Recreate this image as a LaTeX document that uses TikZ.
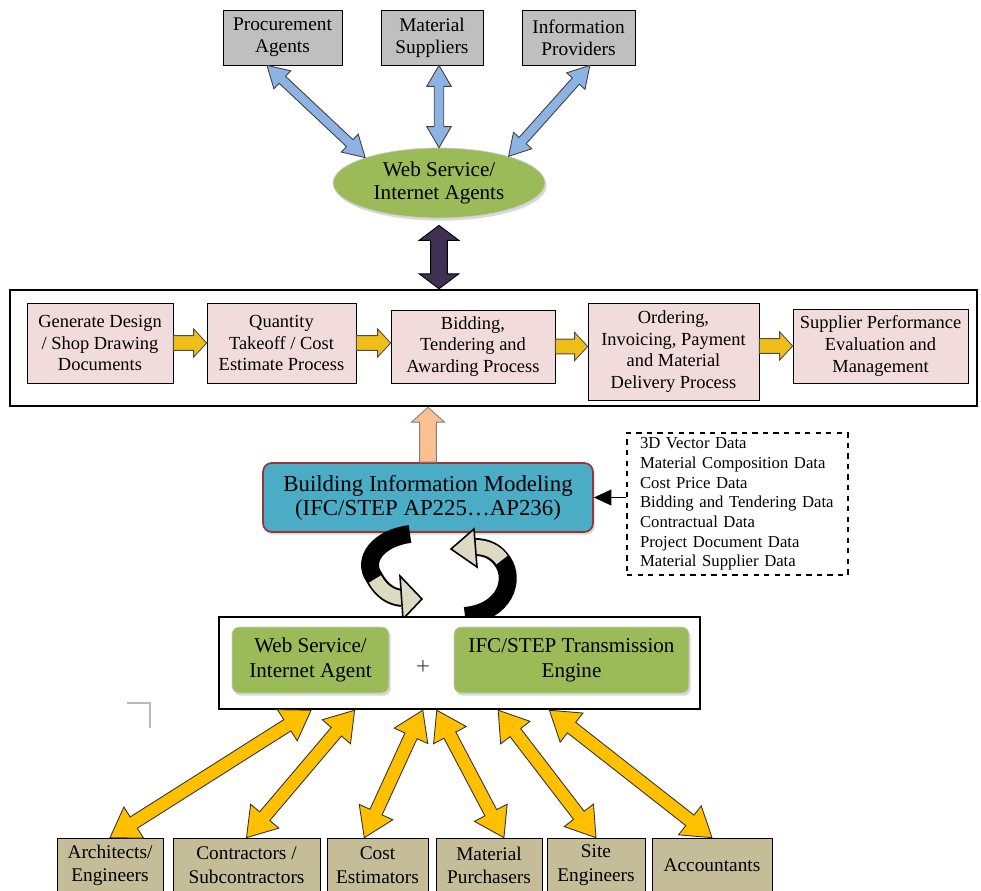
\documentclass[tikz,border=0pt]{standalone}
\usepackage{fontspec}
\setmainfont{Liberation Serif}
\usetikzlibrary{calc,shapes.geometric,arrows.meta,shadows}

\definecolor{partygray}{RGB}{191,191,191}
\definecolor{linkblue}{RGB}{141,179,226}
\definecolor{webgreen}{RGB}{155,187,89}
\definecolor{darkplum}{RGB}{64,49,82}
\definecolor{stagepink}{RGB}{242,220,219}
\definecolor{flowgold}{RGB}{240,190,25}
\definecolor{peach}{RGB}{250,192,144}
\definecolor{bimblue}{RGB}{75,172,198}
\definecolor{bimred}{RGB}{149,55,53}
\definecolor{usertan}{RGB}{196,189,151}
\definecolor{usergold}{RGB}{255,192,0}
\definecolor{cyclebeige}{RGB}{221,217,195}

% block arrows built along the line from start to target
\tikzset{
  aw shaft/.store in=\awshaft, aw head/.store in=\awhead, aw len/.store in=\awlen,
  aw shaft=3pt, aw head=7pt, aw len=8pt,
  twoway/.style={to path={
    let \p1=(\tikztostart), \p2=(\tikztotarget),
        \n1={veclen(\x2-\x1,\y2-\y1)}, \n2={(\x2-\x1)/\n1}, \n3={(\y2-\y1)/\n1}
    in (\p1)
    -- ({\x1+\awlen*\n2-\awhead*\n3},{\y1+\awlen*\n3+\awhead*\n2})
    -- ({\x1+\awlen*\n2-\awshaft*\n3},{\y1+\awlen*\n3+\awshaft*\n2})
    -- ({\x2-\awlen*\n2-\awshaft*\n3},{\y2-\awlen*\n3+\awshaft*\n2})
    -- ({\x2-\awlen*\n2-\awhead*\n3},{\y2-\awlen*\n3+\awhead*\n2})
    -- (\p2)
    -- ({\x2-\awlen*\n2+\awhead*\n3},{\y2-\awlen*\n3-\awhead*\n2})
    -- ({\x2-\awlen*\n2+\awshaft*\n3},{\y2-\awlen*\n3-\awshaft*\n2})
    -- ({\x1+\awlen*\n2+\awshaft*\n3},{\y1+\awlen*\n3-\awshaft*\n2})
    -- ({\x1+\awlen*\n2+\awhead*\n3},{\y1+\awlen*\n3-\awhead*\n2})
    -- cycle}},
  oneway/.style={to path={
    let \p1=(\tikztostart), \p2=(\tikztotarget),
        \n1={veclen(\x2-\x1,\y2-\y1)}, \n2={(\x2-\x1)/\n1}, \n3={(\y2-\y1)/\n1}
    in ({\x1-\awshaft*\n3},{\y1+\awshaft*\n2})
    -- ({\x2-\awlen*\n2-\awshaft*\n3},{\y2-\awlen*\n3+\awshaft*\n2})
    -- ({\x2-\awlen*\n2-\awhead*\n3},{\y2-\awlen*\n3+\awhead*\n2})
    -- (\p2)
    -- ({\x2-\awlen*\n2+\awhead*\n3},{\y2-\awlen*\n3-\awhead*\n2})
    -- ({\x2-\awlen*\n2+\awshaft*\n3},{\y2-\awlen*\n3-\awshaft*\n2})
    -- ({\x1+\awshaft*\n3},{\y1-\awshaft*\n2})
    -- cycle}}
}

\begin{document}
\begin{tikzpicture}[x=0.02cm, y=-0.02cm,
  every node/.style={align=center, inner sep=0pt},
  party/.style={draw, fill=partygray, minimum height=1.1cm,
                font=\fontsize{11}{12.5}\selectfont},
  stagebox/.style={draw, fill=stagepink, font=\fontsize{10.5}{12.3}\selectfont},
  userbox/.style={draw, fill=usertan, minimum height=1.1cm,
                  font=\fontsize{11}{13.5}\selectfont},
  greenbox/.style={draw=white!80!black, fill=webgreen, rounded corners=4pt,
                   minimum height=1.32cm, font=\fontsize{12}{14}\selectfont,
                   drop shadow={shadow xshift=1pt, shadow yshift=-1.5pt, opacity=.3}},
  holder/.style={draw, line width=1.4pt, fill=white},
  linkarr/.style={twoway, fill=linkblue, draw=black!75, line width=0.5pt,
                  aw shaft=2.7pt, aw head=7pt, aw len=12pt},
  flowarr/.style={oneway, fill=flowgold, draw=black!70, line width=0.5pt,
                  aw shaft=4.2pt, aw head=8pt, aw len=7.4pt},
  userarr/.style={twoway, fill=usergold, draw=black!80, line width=0.5pt,
                  aw shaft=3.8pt, aw head=10.5pt, aw len=16pt},
  cyclearr/.style={line width=10.2pt},
  cyclein/.style={line width=8pt, cyclebeige}
]
  \useasboundingbox (0,0) rectangle (981,890);

  % partners on the web
  \node[party, minimum width=2.38cm] (proc) at (282.5,37.5) {Procurement\\Agents};
  \node[party, minimum width=2.04cm] (supp) at (432,37.5) {Material\\Suppliers};
  \node[party, minimum width=2.26cm] (info) at (578.5,37.5) {Information\\Providers};

  \node[ellipse, draw=white!80!black, fill=webgreen, minimum width=4.24cm,
        minimum height=1.4cm, font=\fontsize{12}{13.5}\selectfont,
        drop shadow={shadow xshift=1pt, shadow yshift=-1.5pt, opacity=.3}]
        (ws) at (439,183) {Web Service/\\Internet Agents};

  \coordinate (p1) at ($(proc.south west)!0.37!(proc.south east)$);
  \coordinate (p2) at (ws.north |- supp.south);
  \coordinate (p3) at ($(info.south west)!0.6!(info.south east)$);
  \draw[linkarr] (p1) to (ws.161);
  \draw[linkarr] (p2) to (ws.north);
  \draw[linkarr] (p3) to (ws.21);

  % procurement process
  \node[holder, minimum width=19.34cm, minimum height=2.32cm] (flow) at (493.5,348) {};
  \node[stagebox, minimum width=2.92cm, minimum height=1.6cm] (b1) at (100,343)
       {Generate Design\\/ Shop Drawing\\Documents};
  \node[stagebox, minimum width=2.98cm, minimum height=1.6cm] (b2) at (281.5,343)
       {Quantity\\Takeoff / Cost\\Estimate Process};
  \node[stagebox, minimum width=3.28cm, minimum height=1.46cm] (b3) at (473,346.5)
       {Bidding,\\Tendering and\\Awarding Process};
  \node[stagebox, minimum width=3.42cm, minimum height=1.94cm] (b4) at (673.5,351.5)
       {Ordering,\\Invoicing, Payment\\and Material\\Delivery Process};
  \node[stagebox, minimum width=3.5cm, minimum height=1.48cm] (b5) at (880.5,346)
       {Supplier Performance\\Evaluation and\\Management};

  \coordinate (q2) at (b2.east -| b3.west);
  \coordinate (q3) at (b3.east -| b4.west);
  \coordinate (q4) at (b5.west -| b4.east);
  \draw[flowarr] (b1.east) to (b2.west);
  \draw[flowarr] (b2.east) to (q2);
  \draw[flowarr] (b3.east) to (q3);
  \draw[flowarr] (q4) to (b5.west);

  \coordinate (wsdown) at ([yshift=-4pt]ws.south);
  \coordinate (flowtop) at (ws.south |- flow.north);
  \draw[twoway, fill=darkplum, draw=black, line width=0.5pt,
        aw shaft=4.8pt, aw head=11.3pt, aw len=8.5pt] (wsdown) to (flowtop);

  % BIM and its data
  \node[draw=bimred, line width=1pt, fill=bimblue, rounded corners=5pt,
        minimum width=6.6cm, minimum height=1.38cm,
        font=\fontsize{13}{13.6}\selectfont,
        drop shadow={shadow xshift=1pt, shadow yshift=-1.5pt, opacity=.3}]
        (bim) at (428,497.5) {Building Information Modeling\\(IFC/STEP AP225…AP236)};

  \coordinate (flowbot) at (bim.north |- flow.south);
  \draw[oneway, fill=peach, draw=black!50, line width=0.5pt,
        aw shaft=4.8pt, aw head=9.4pt, aw len=8.5pt] (bim.north) to (flowbot);

  \node[draw, dashed, line width=0.8pt, align=left, inner xsep=7.4pt,
        text width=4.42cm-14.8pt, minimum height=2.84cm,
        font=\fontsize{9.5}{11.2}\selectfont] (data) at (737.5,504)
       {3D Vector Data\\Material Composition Data\\Cost Price Data\\
        Bidding and Tendering Data\\Contractual Data\\Project Document Data\\
        Material Supplier Data};
  \coordinate (dataleft) at (data.west |- bim.east);
  \draw[line width=0.9pt, -{Triangle[length=10pt,width=9pt]}] (dataleft) -- (bim.east);

  % exchange cycle
  \draw[cyclearr] (410,534) .. controls (378,538) and (362,560) .. (374,577)
        .. controls (382,592) and (392,597) .. (402,598);
  \draw[cyclein] (375,579) .. controls (382,592) and (392,597) .. (402,598);
  \filldraw[fill=cyclebeige, draw=black, line width=0.9pt]
        (400,576) -- (422,599) -- (403,619) -- cycle;
  \draw[cyclearr] (465,616) .. controls (505,612) and (515,580) .. (503,562)
        .. controls (496,551) and (486,547) .. (475,547);
  \draw[cyclein] (502,560) .. controls (496,551) and (486,547) .. (475,547);
  \filldraw[fill=cyclebeige, draw=black, line width=0.9pt]
        (474,529) -- (451,549) -- (477,567) -- cycle;

  % transmission
  \node[holder, minimum width=9.62cm, minimum height=1.84cm] (tx) at (459.5,663) {};
  \node[greenbox, minimum width=3.14cm] (agent) at (310.5,660) {Web Service/\\Internet Agent};
  \node[greenbox, minimum width=4.7cm] (engine) at (571.5,660) {IFC/STEP Transmission\\Engine};
  \node[font=\fontsize{14}{14}\selectfont, text=black!70] (plus) at (423,668) {+};

  \draw[gray!55, line width=0.7pt] (127,703) -- (150,703) -- (150,728);

  % users
  \node[userbox, minimum width=2.12cm] (arch) at (110,865.5) {Architects/\\Engineers};
  \node[userbox, minimum width=2.94cm] (contr) at (246.5,865.5) {Contractors /\\Subcontractors};
  \node[userbox, minimum width=2.02cm] (cost) at (377.5,865.5) {Cost\\Estimators};
  \node[userbox, minimum width=2.12cm] (mat) at (489,865.5) {Material\\Purchasers};
  \node[userbox, minimum width=1.96cm] (site) at (596,865.5) {Site\\Engineers};
  \node[userbox, minimum width=2.4cm] (acct) at (712,865.5) {Accountants};

  \coordinate (t1) at ($(tx.south west)!0.193!(tx.south east)$);
  \coordinate (t2) at ($(tx.south west)!0.283!(tx.south east)$);
  \coordinate (t3) at ($(tx.south west)!0.424!(tx.south east)$);
  \coordinate (t4) at ($(tx.south west)!0.453!(tx.south east)$);
  \coordinate (t5) at ($(tx.south west)!0.580!(tx.south east)$);
  \coordinate (t6) at ($(tx.south west)!0.686!(tx.south east)$);
  \coordinate (u3) at ($(cost.north west)!0.37!(cost.north east)$);
  \coordinate (u4) at ($(mat.north west)!0.64!(mat.north east)$);
  \draw[userarr] (arch.north) to (t1);
  \draw[userarr] (contr.north) to (t2);
  \draw[userarr] (u3) to (t3);
  \draw[userarr] (u4) to (t4);
  \draw[userarr] (site.north) to (t5);
  \draw[userarr] (acct.north) to (t6);
\end{tikzpicture}
\end{document}
